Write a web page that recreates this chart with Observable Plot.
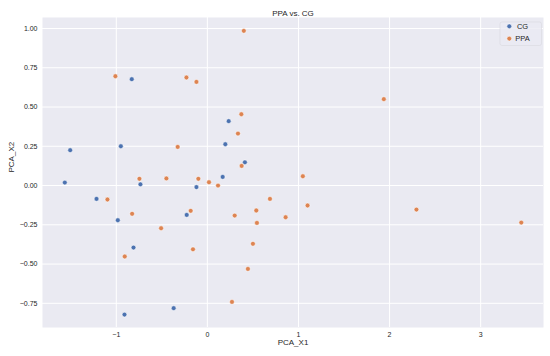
<!DOCTYPE html>
<html>
<head>
<meta charset="utf-8">
<script src="https://cdn.jsdelivr.net/npm/d3@7"></script>
<script src="https://cdn.jsdelivr.net/npm/@observablehq/plot@0.6"></script>
<style>
  html, body { margin: 0; padding: 0; background: #ffffff; }
  #chart svg { display: block; }
</style>
</head>
<body>
<div id="chart"></div>
<script>
const title = "PPA vs. CG";
const xLabel = "PCA_X1";
const yLabel = "PCA_X2";
const groups = ["CG", "PPA"];
const groupColors = ["#4C72B0", "#DD8452"];
const xTicks = [-1, 0, 1, 2, 3];
const yTicks = [-0.75, -0.5, -0.25, 0, 0.25, 0.5, 0.75, 1.0];

const cgX = [-0.83, 0.234, -1.506, -0.95, 0.197, 0.412, -1.565, -0.735, -0.12, 0.168, -1.217, -0.983, -0.227, -0.811, -0.37, -0.91];
const cgY = [0.677, 0.41, 0.225, 0.25, 0.263, 0.148, 0.019, 0.008, -0.01, 0.055, -0.085, -0.221, -0.187, -0.395, -0.781, -0.822];

const ppaX = [0.40, -1.01, -0.23, -0.12, 0.373, 0.336, -0.326, 0.376, 1.937, 1.048, -0.746, -0.45, -0.099, 0.018, 0.117, -1.097, 0.687, -0.826, -0.508, -0.183, 0.30, 0.537, 0.544, -0.158, 0.5, -0.907, 0.445, 0.27, 1.10, 0.859, 2.295, 3.446];
const ppaY = [0.985, 0.696, 0.688, 0.66, 0.454, 0.331, 0.246, 0.125, 0.55, 0.059, 0.043, 0.045, 0.043, 0.021, 0.0, -0.089, -0.085, -0.18, -0.272, -0.161, -0.191, -0.159, -0.238, -0.406, -0.371, -0.452, -0.531, -0.741, -0.127, -0.202, -0.153, -0.236];

const points = [
  ...cgX.map((x, i) => ({x, y: cgY[i], group: "CG"})),
  ...ppaX.map((x, i) => ({x, y: ppaY[i], group: "PPA"}))
];

const font = "'Liberation Sans', Arial, sans-serif";
const textColor = "#262626";

const plot = Plot.plot({
  width: 550,
  height: 356,
  marginLeft: 42,
  marginRight: 7,
  marginTop: 17,
  marginBottom: 29,
  style: { fontFamily: font, fontSize: "7px", color: textColor, background: "#ffffff" },
  x: { domain: [-1.81, 3.69], ticks: xTicks },
  y: { domain: [-0.904, 1.07], ticks: yTicks },
  color: { domain: groups, range: groupColors },
  marks: [
    Plot.frame({ fill: "#EAEAF2", stroke: null }),
    Plot.gridX(xTicks, { stroke: "#ffffff", strokeOpacity: 1, strokeWidth: 1 }),
    Plot.gridY(yTicks, { stroke: "#ffffff", strokeOpacity: 1, strokeWidth: 1 }),
    Plot.axisX(xTicks, { tickSize: 0, tickPadding: 5, label: null, fill: textColor, tickFormat: d3.format("d") }),
    Plot.axisY(yTicks, { tickSize: 0, tickPadding: 5, label: null, fill: textColor, tickFormat: d3.format(".2f") }),
    Plot.dot(points, { x: "x", y: "y", fill: "group", r: 2.4, stroke: "#ffffff", strokeWidth: 0.5 }),
    Plot.text([title], { frameAnchor: "top", dy: -7, fontSize: 8, fill: textColor }),
    Plot.text([xLabel], { frameAnchor: "bottom", dy: 17, fontSize: 8, fill: textColor }),
    Plot.text([yLabel], { frameAnchor: "left", dx: -31, rotate: -90, fontSize: 8, fill: textColor })
  ]
});

document.getElementById("chart").appendChild(plot);

// legend (inside plot, top-right)
const svg = d3.select(plot);
const lg = svg.append("g").attr("transform", "translate(500,22)");
lg.append("rect").attr("width", 41.5).attr("height", 23.5).attr("rx", 2)
  .attr("fill", "#EAEAF2").attr("fill-opacity", 0.8).attr("stroke", "#d8d8df").attr("stroke-width", 0.6);
groups.forEach((g, i) => {
  const row = lg.append("g").attr("transform", `translate(0,${4.3 + i * 12.3})`);
  row.append("circle").attr("cx", 9.3).attr("cy", 0).attr("r", 2.4)
    .attr("fill", groupColors[i]).attr("stroke", "#ffffff").attr("stroke-width", 0.5);
  row.append("text").attr("x", 22.5).attr("y", 0).attr("dy", "0.32em")
    .attr("font-size", 7.5).attr("fill", textColor).attr("font-family", font).text(g);
});
</script>
</body>
</html>
